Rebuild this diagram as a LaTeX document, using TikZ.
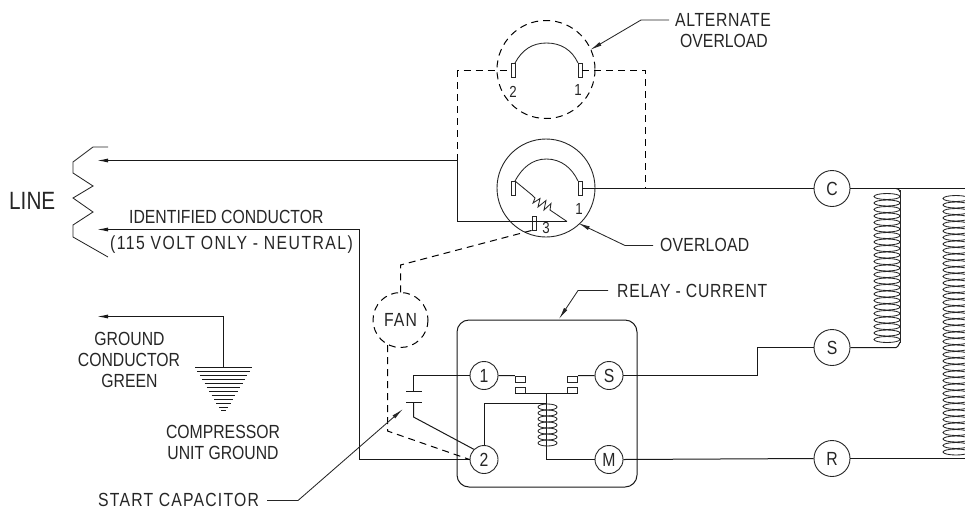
\documentclass[tikz,border=0pt]{standalone}
\usepackage{fontspec}
\setmainfont{Liberation Sans}
\newfontfamily\cad[FakeStretch=0.83]{Liberation Sans}
\newcommand{\spaced}[2]{{\addfontfeature{LetterSpace=#1}#2}}
\usetikzlibrary{arrows.meta,calc}
\tikzset{
 wire/.style={line width=1pt,black!90},
 dashwire/.style={line width=1pt,black,dash pattern=on 7pt off 5pt},
 fineline/.style={line width=0.85pt,black!85},
 lbl/.style={font=\cad\fontsize{19}{19}\selectfont,inner sep=0pt,text=black!85,align=center},
 term/.style={circle,draw=black!85,line width=0.9pt,minimum size=28pt,inner sep=0pt,fill=white,font=\cad\fontsize{19}{19}\selectfont,text=black!85},
 mterm/.style={term,minimum size=36pt},
 contact/.style={draw=black!85,line width=0.9pt,fill=white,inner sep=0pt,minimum width=4pt,minimum height=14pt},
 cbox/.style={draw=black!85,line width=0.9pt,fill=white,inner sep=0pt,minimum width=10.5pt,minimum height=6pt},
 smalllbl/.style={font=\cad\fontsize{16}{16}\selectfont,inner sep=0pt,text=black!85},
 leader/.style={-{Latex[length=12pt,width=4pt]}},
 wiretip/.style={line width=1pt,black!90,-{Latex[length=11pt,width=4pt]}},
}
\begin{document}
\begin{tikzpicture}[x=1pt,y=-1pt]
\useasboundingbox (0,0) rectangle (965,509);
\clip (0,0) rectangle (965,509);
% circles
\node[circle,draw=none,minimum size=98pt,inner sep=0pt] (altc) at (546,69.5) {};
\draw[dashwire] (546,69.5) circle[radius=49];
\node[circle,draw=black!85,line width=0.9pt,minimum size=98pt,inner sep=0pt] (ovc) at (546,188) {};
\node[circle,minimum size=55pt,inner sep=0pt,font=\cad\fontsize{19}{19}\selectfont,text=black!85] (fan) at (400.5,320) {\spaced{6}{FAN}};
\draw[dashwire] (400.5,320) circle[radius=27.5];
% coordinates
\coordinate (linel) at (110,160.5);
\coordinate (lineltip) at (97,160.5);
\coordinate (neut) at (110,229.5);
\coordinate (neuttip) at (97,229.5);
\coordinate (jL) at (457.5,160.5);
\coordinate (jR) at (645.5,188.5);
\coordinate (sq) at (567,221.5);
% alt overload
\node[contact] (a2) at (513.5,70.5) {};
\node[contact] (a1) at (580,70.5) {};
\draw[fineline] (515,63) .. controls (522,50) and (532,43) .. (546.5,43) .. controls (561,43) and (572,50) .. (578,63);
\draw[dashwire] (jL) -- (457.5,70.5) -- (a2.west);
\draw[dashwire] (a1.east) -- (645.5,70.5) -- (jR);
\node[smalllbl] (n2) at (513,92) {2};
\node[smalllbl] (n1) at (578,90) {1};
% overload
\node[contact] (o2) at (513.5,188.5) {};
\node[contact] (o1) at (580,188.5) {};
\node[contact] (o3) at (534,223) {};
\draw[fineline] (515,181) .. controls (522,168) and (532,159) .. (546.5,159) .. controls (561,159) and (572,168) .. (578,181);
\draw[fineline] (515,181) -- (532,195) -- (535,198) -- (533,203) -- (540,198.5) -- (538,207) -- (546,200.5) -- (544,210) -- (551,203.5) -- (550,210) -- (sq);
\node[smalllbl] (n1b) at (579,209) {1};
\node[smalllbl] (n3) at (546,228) {3};
% terminals motor
\node[mterm] (C) at (832,188.5) {C};
\node[mterm] (S) at (832,347.5) {S};
\node[mterm] (R) at (832,458.5) {R};
% relay
\node[draw=black!90,line width=1pt,rounded corners=12pt,minimum width=180pt,minimum height=167pt,inner sep=0pt] (relay) at (547,403.5) {};
\node[term] (t1) at (484,375.5) {1};
\node[term] (t2) at (484,459.5) {2};
\node[term] (tS) at (609,375.5) {S};
\node[term] (tM) at (609,459.5) {M};
\node[cbox] (b1) at (520.5,379) {};
\node[cbox] (b2) at (520.5,390) {};
\node[cbox] (b3) at (572.5,379) {};
\node[cbox] (b4) at (572.5,390) {};
% wires
\draw[wire] (linel) -- (jL) -- (457.5,221.5) -- (sq);
\draw[wire] (o1.east) -- (C.west);
\draw[wire] (neut) -- (359.5,229.5) -- (359.5,459.5) -- (t2.west);
\draw[wire] (tM.east) -- (R.west);
\draw[wire] (tS.east) -- (757.5,375.5) -- (757.5,347.5) -- (S.west);
\draw[wire] (C.east) -- (965,188.5);
\draw[wire] (R.east) -- (965,458.5);
\draw[wire] (S.east) -- (896,347.5) to[out=0,in=90,looseness=1] (900,343);
\draw[wire] (t1.east) -- (b1.north west);
\draw[wire] (tS.west) -- (b3.north east);
\draw[wire] (b2.south west) -- (b4.south east);
\coordinate (coiltop) at (546.5,393);
\coordinate (coilbot) at (546.5,459.5);
\draw[wire] (coiltop) -- (coilbot) -- (tM.west);
\draw[wire] (t2.north) -- (484,403.5) -- (546.5,403.5);
% relay coil
\foreach \y in {407,413,...,447} {\draw[fineline] (547.5,\y) ellipse[x radius=9.5,y radius=3];}
% capacitor
\coordinate (capA) at (413.5,391.5);
\coordinate (capB) at (413.5,402.5);
\draw[wire] (t1.west) -- (413.5,375.5) -- (capA);
\draw[wire] (capB) -- (413.5,417) -- (t2.north west);
\draw[wire] (406,391.5) -- (422,391.5);
\draw[wire] (406,402.5) -- (422,402.5);
% fan dashed
\draw[dashwire] (o3.south west) -- (400.5,265) -- (400.5,292.5);
\draw[dashwire] (387.5,345) -- (387.5,431) -- (t2.west);
% ground
\coordinate (gndtip) at (97,316.5);
\draw[wire] (223.5,367) -- (223.5,316.5) -- (110,316.5);
\foreach \i in {0,...,11} {\draw[wire] ({223.5-28.5*(1-\i/12)},{367.5+\i*3.95}) -- ({223.5+28.5*(1-\i/12)},{367.5+\i*3.95});}
% coils motor
\foreach \y in {196.5,203,...,340} {\draw[fineline] (887,\y) ellipse[x radius=13,y radius=3];}
\draw[fineline] (900,190) -- (900,343);
\draw[wire] (896,188.5) to[out=0,in=90,looseness=1] (900,192);
\foreach \y in {198.5,205,...,452} {\draw[fineline] (956,\y) ellipse[x radius=13,y radius=3];}
% arrowheads on wires
\draw[wiretip] (linel) -- (lineltip);
\draw[wiretip] (neut) -- (neuttip);
\draw[wiretip] (110,316.5) -- (gndtip);
% leaders
\coordinate (a1x) at (669,20);
\coordinate (a2x) at (641,20);
\draw[fineline,leader] (a1x) -- (a2x) -- (590,50);
\draw[fineline,leader] (653,245.5) -- (625,245.5) -- (578,223);
\draw[fineline,leader] (608,290.5) -- (578,290.5) -- (559,319);
\draw[fineline,leader] (267,500.5) -- (298,500.5) -- (403,409);
% labels
\node[lbl] (altlab) at (723,20) {\spaced{3.5}{ALTERNATE}};
\node[lbl] (altlab2) at (724,41) {OVERLOAD};
\node[lbl,anchor=west] (ovlab) at (660,245) {\spaced{1}{OVERLOAD}};
\node[lbl,anchor=west] (rellab) at (617,291) {\spaced{3.7}{RELAY - CURRENT}};
\node[lbl,anchor=west,font=\cad\fontsize{25}{25}\selectfont] (linelab) at (9,201) {LINE};
\node[lbl,anchor=west] (id1) at (129,217) {IDENTIFIED CONDUCTOR};
\node[lbl,anchor=west] (id2) at (110,245) {\spaced{7.6}{(115 VOLT ONLY - NEUTRAL)}};
\node[lbl] (gr1) at (129.5,339) {GROUND};
\node[lbl] (gr2) at (129,360) {CONDUCTOR};
\node[lbl] (gr3) at (129.5,381) {GREEN};
\node[lbl] (cu1) at (223,432) {COMPRESSOR};
\node[lbl] (cu2) at (223,453) {UNIT GROUND};
\node[lbl,anchor=west] (sc) at (98,499.5) {\spaced{6.3}{START CAPACITOR}};
% line zigzag
\draw[fineline] (108,147) -- (93,147) -- (73,162) -- (73,173) -- (93,186) -- (73,198) -- (93,212) -- (73,225) -- (73,237) -- (108,257);
\end{tikzpicture}
\end{document}
